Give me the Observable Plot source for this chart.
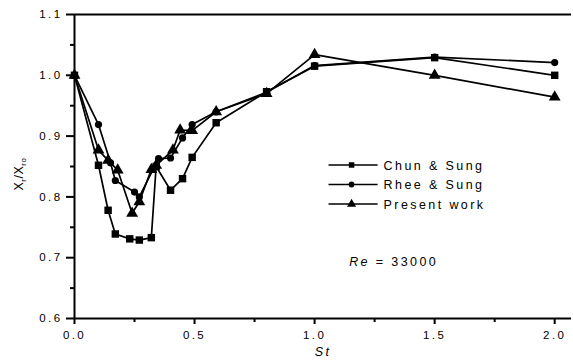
<!DOCTYPE html>
<html><head><meta charset="utf-8">
<script src="https://cdn.jsdelivr.net/npm/d3@7"></script>
<script src="https://cdn.jsdelivr.net/npm/@observablehq/plot@0.6"></script>
<style>body{margin:0;background:#fff}</style>
</head><body><div id="chart"></div>
<script>
// Data
const stChun = [0, 0.10, 0.14, 0.17, 0.23, 0.27, 0.32, 0.34, 0.40, 0.45, 0.49, 0.59, 0.80, 1.0, 1.5, 2.0];
const xrChun = [1.0, 0.852, 0.778, 0.739, 0.731, 0.729, 0.733, 0.85, 0.811, 0.83, 0.865, 0.922, 0.973, 1.015, 1.029, 1.0];
const stRhee = [0, 0.10, 0.15, 0.17, 0.25, 0.27, 0.35, 0.40, 0.45, 0.49, 0.59, 0.80, 1.0, 1.5, 2.0];
const xrRhee = [1.0, 0.919, 0.856, 0.827, 0.808, 0.80, 0.863, 0.864, 0.897, 0.919, 0.94, 0.972, 1.016, 1.03, 1.021];
const stPresent = [0, 0.10, 0.14, 0.18, 0.24, 0.27, 0.32, 0.34, 0.41, 0.44, 0.49, 0.59, 0.80, 1.0, 1.5, 2.0];
const xrPresent = [1.0, 0.877, 0.86, 0.844, 0.773, 0.792, 0.845, 0.852, 0.877, 0.91, 0.909, 0.94, 0.97, 1.034, 1.0, 0.964];
const seriesNames = ["Chun & Sung", "Rhee & Sung", "Present work"];
const yTicks = [0.6, 0.7, 0.8, 0.9, 1.0, 1.1];
const yMinor = [0.65, 0.75, 0.85, 0.95, 1.05];
const xTicks = [0, 0.5, 1.0, 1.5, 2.0];
const xMinor = [0.25, 0.75, 1.25, 1.75];
const reLabel = "Re";
const reValue = " = 33000";

const rows = (name, st, xr) => st.map((s, i) => ({series: name, st: s, xr: xr[i]}));
const chun = rows(seriesNames[0], stChun, xrChun);
const rhee = rows(seriesNames[1], stRhee, xrRhee);
const present = rows(seriesNames[2], stPresent, xrPresent);
const all = [...chun, ...rhee, ...present];

// legend layout (in chart units)
const legend = [
  {name: seriesNames[0], sym: "square", r: 3.2, y: 0.8525},
  {name: seriesNames[1], sym: "circle", r: 2.8, y: 0.8204},
  {name: seriesNames[2], sym: "triangle", r: 3.8, y: 0.7883}
];
const fmt = d3.format(".1f");

const plot = Plot.plot({
  width: 573, height: 360,
  marginLeft: 74, marginRight: 2, marginTop: 14, marginBottom: 42,
  x: {domain: [0, 2.07]},
  y: {domain: [0.6, 1.1]},
  style: {fontFamily: "'Liberation Sans', Arial, sans-serif", fontSize: "11.5px", letterSpacing: "2.4px", background: "#fff", color: "#000"},
  marks: [
    Plot.axisY({ticks: yTicks, tickSize: 8, tickPadding: 4, tickFormat: fmt, strokeWidth: 2, label: null}),
    Plot.axisY({ticks: yMinor, tickSize: 4, tickFormat: () => "", strokeWidth: 2, label: null}),
    Plot.axisX({ticks: xTicks, tickSize: 6, tickPadding: 6, tickFormat: fmt, strokeWidth: 2, label: null}),
    Plot.axisX({ticks: xMinor, tickSize: 4, tickFormat: () => "", strokeWidth: 2, label: null}),
    Plot.ruleX([0], {strokeWidth: 2}),
    Plot.ruleY([0.6, 1.1], {strokeWidth: 2}),
    Plot.line(all, {x: "st", y: "xr", z: "series", stroke: "#000", strokeWidth: 1.7}),
    Plot.dot(chun, {x: "st", y: "xr", symbol: "square", r: 4.2, fill: "#000"}),
    Plot.dot(rhee, {x: "st", y: "xr", symbol: "circle", r: 3.6, fill: "#000"}),
    Plot.dot(present, {x: "st", y: "xr", symbol: "triangle", r: 4.4, fill: "#000"}),
    // legend
    Plot.link(legend, {x1: 1.058, x2: 1.2625, y1: "y", y2: "y", stroke: "#000", strokeWidth: 1.7}),
    Plot.dot(legend, {x: 1.154, y: "y", symbol: "sym", r: "r", fill: "#000"}),
    Plot.text(legend, {x: 1.2875, y: "y", text: "name", textAnchor: "start", fontSize: 12.5, dy: 1}),
    Plot.text(["St"], {frameAnchor: "bottom", dy: 37, fontStyle: "italic", fontSize: 12.5})
  ]
});
const svg = d3.select(plot);
const xs = plot.scale("x"), ys = plot.scale("y");
// Re annotation as one text element
const re = svg.append("text")
  .attr("x", xs.apply(1.146)).attr("y", ys.apply(0.692)).attr("dy", "0.32em")
  .attr("text-anchor", "start")
  .attr("font-size", 12.5).attr("fill", "#000");
re.append("tspan").attr("font-style", "italic").text(reLabel);
re.append("tspan").text(reValue);
// y axis title
const t = svg.append("text")
  .attr("transform", "translate(23,174) rotate(-90)")
  .attr("text-anchor", "middle")
  .attr("font-size", 12.5)
  .attr("letter-spacing", "0.5px")
  .attr("fill", "#000");
t.append("tspan").text("X");
t.append("tspan").attr("dy", 3).attr("font-size", 8).text("r");
t.append("tspan").attr("dy", -3).text("/X");
t.append("tspan").attr("dy", 3).attr("font-size", 8).text("ro");
document.getElementById("chart").appendChild(plot);
</script></body></html>
